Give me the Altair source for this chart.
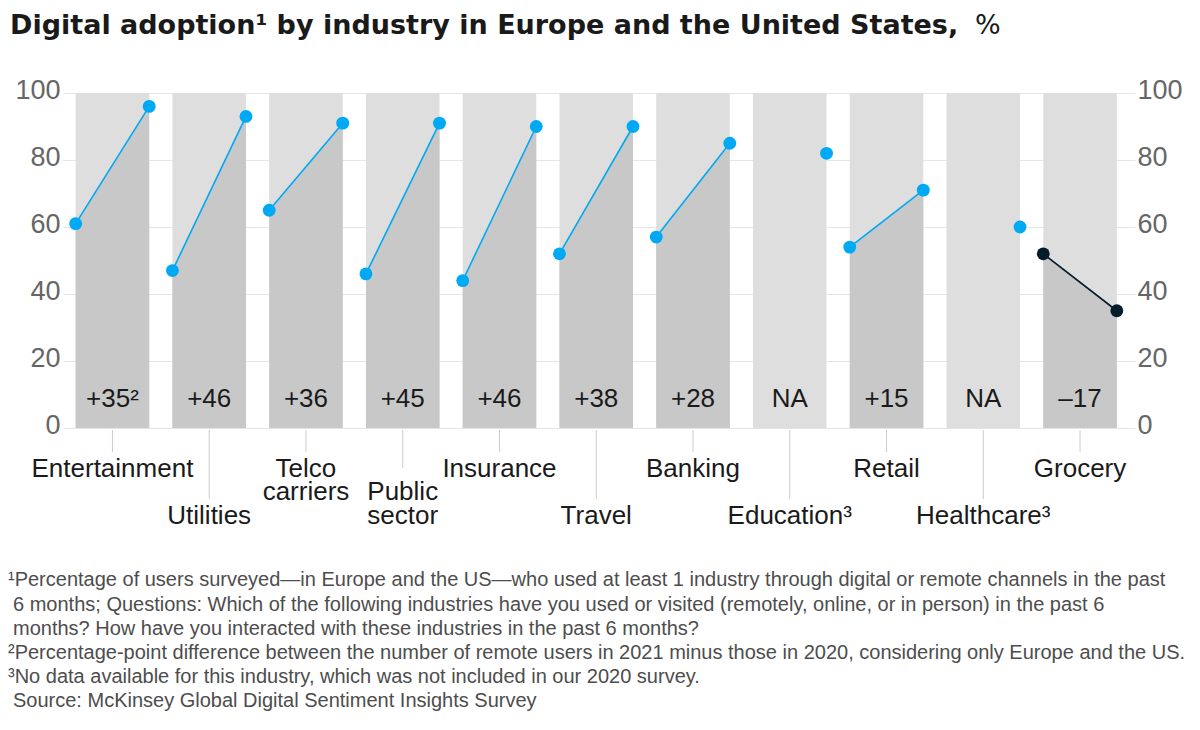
import altair as alt
import pandas as pd

industries = ["Entertainment", "Utilities", "Telco carriers", "Public sector", "Insurance",
              "Travel", "Banking", "Education³", "Retail", "Healthcare³", "Grocery"]
v2020 = [61, 47, 65, 46, 44, 52, 57, None, 54, None, 52]
v2021 = [96, 93, 91, 91, 90, 90, 85, 82, 71, 60, 35]
deltas = ["+35²", "+46", "+36", "+45", "+46", "+38", "+28", "NA", "+15", "NA", "–17"]
label_lines = [["Entertainment"], ["Utilities"], ["Telco", "carriers"], ["Public", "sector"],
               ["Insurance"], ["Travel"], ["Banking"], ["Education³"], ["Retail"],
               ["Healthcare³"], ["Grocery"]]
label_row = [0, 2, 0, 1, 0, 2, 0, 2, 0, 2, 0]
y_ticks = [0, 20, 40, 60, 80, 100]

title_main = "Digital adoption¹ by industry in Europe and the United States,"
title_unit = "%"
footnotes = [
    "¹Percentage of users surveyed—in Europe and the US—who used at least 1 industry through digital or remote channels in the past",
    "6 months; Questions: Which of the following industries have you used or visited (remotely, online, or in person) in the past 6",
    "months? How have you interacted with these industries in the past 6 months?",
    "²Percentage-point difference between the number of remote users in 2021 minus those in 2020, considering only Europe and the US.",
    "³No data available for this industry, which was not included in our 2020 survey.",
    "Source: McKinsey Global Digital Sentiment Insights Survey",
]
footnote_indent = [0, 1, 1, 0, 0, 1]

FONT = "Liberation Sans"
BW = 0.76
n = len(industries)

bands = pd.DataFrame({
    "industry": industries,
    "x0": [i for i in range(n)],
    "x1": [i + BW for i in range(n)],
    "xc": [i + BW / 2 for i in range(n)],
    "delta": deltas,
    "y0": [0] * n,
    "y1": [100] * n,
})

pts = []
for i in range(n):
    grp = "down" if (v2020[i] is not None and v2021[i] < v2020[i]) else "up"
    if v2020[i] is not None:
        pts.append({"industry": industries[i], "x": i, "v": v2020[i], "grp": grp, "pair": True})
    pts.append({"industry": industries[i], "x": i + BW, "v": v2021[i], "grp": grp,
                "pair": v2020[i] is not None})
pts = pd.DataFrame(pts)
pairs = pts[pts["pair"]]

row_y = [376, 399, 423]
tick_end = [359, 375, 406]
lab = []
ticks = []
for i in range(n):
    for k, t in enumerate(label_lines[i]):
        lab.append({"xc": i + BW / 2, "py": row_y[label_row[i] + k], "t": t})
    ticks.append({"xc": i + BW / 2, "p0": 337, "p1": tick_end[label_row[i]]})
lab = pd.DataFrame(lab)
ticks = pd.DataFrame(ticks)

xs = alt.Scale(domain=[-0.131, 10.948], nice=False, zero=False)
ys = alt.Scale(domain=[0, 100], nice=False)
colscale = alt.Scale(domain=["up", "down"], range=["#00a9f4", "#051c2c"])

axis_common = dict(values=y_ticks, domain=False, ticks=False, labelFontSize=27,
                   labelColor="#666666", labelFont=FONT, title=None, labelOffset=-3)

bg = alt.Chart(bands).mark_rect(color="#dedede").encode(
    x=alt.X("x0:Q", scale=xs, axis=None),
    x2="x1:Q",
    y=alt.Y("y0:Q", scale=ys, axis=alt.Axis(grid=True, gridColor="#e6e6e6", labelPadding=3,
                                             **axis_common)),
    y2="y1:Q",
)

right_axis = alt.Chart(bands).mark_rect(opacity=0).encode(
    x=alt.X("x0:Q", scale=xs, axis=None),
    x2="x1:Q",
    y=alt.Y("y0:Q", scale=ys, axis=alt.Axis(grid=False, orient="right", labelPadding=2,
                                             **axis_common)),
    y2="y1:Q",
)

area = alt.Chart(pairs).mark_area(color="#c8c8c8", opacity=1).encode(
    x=alt.X("x:Q", scale=xs, axis=None),
    y=alt.Y("v:Q", scale=ys, axis=None, stack=None),
    detail="industry:N",
)

line = alt.Chart(pairs).mark_line(strokeWidth=1.6).encode(
    x=alt.X("x:Q", scale=xs, axis=None),
    y=alt.Y("v:Q", scale=ys, axis=None),
    detail="industry:N",
    color=alt.Color("grp:N", scale=colscale, legend=None),
)

dots = alt.Chart(pts).mark_circle(size=165, opacity=1).encode(
    x=alt.X("x:Q", scale=xs, axis=None),
    y=alt.Y("v:Q", scale=ys, axis=None),
    color=alt.Color("grp:N", scale=colscale, legend=None),
)

dtext = alt.Chart(bands).mark_text(font=FONT, fontSize=26, color="#1a1a1a", baseline="middle").encode(
    x=alt.X("xc:Q", scale=xs, axis=None),
    y=alt.value(306),
    text="delta:N",
)

tickrules = alt.Chart(ticks).mark_rule(color="#cccccc", strokeWidth=1).encode(
    x=alt.X("xc:Q", scale=xs, axis=None),
    y=alt.Y("p0:Q", scale=None),
    y2="p1:Q",
)

labels = alt.Chart(lab).mark_text(font=FONT, fontSize=26, color="#1a1a1a", baseline="middle").encode(
    x=alt.X("xc:Q", scale=xs, axis=None),
    y=alt.Y("py:Q", scale=None),
    text="t:N",
)

ttl = alt.Chart(pd.DataFrame({"t": [title_main]})).mark_text(
    font="DejaVu Sans", fontSize=27, fontWeight="bold", color="#1a1a1a", align="left", baseline="alphabetic"
).encode(x=alt.value(-53), y=alt.value(-59), text="t:N")

ttl2 = alt.Chart(pd.DataFrame({"t": [title_unit]})).mark_text(
    font="DejaVu Sans", fontSize=27, color="#1a1a1a", align="left", baseline="alphabetic"
).encode(x=alt.value(912), y=alt.value(-59), text="t:N")

fn_y = [487, 512, 536, 560, 584, 608]
fn = pd.DataFrame({"t": footnotes, "py": fn_y,
                   "px": [-55 + 5 * k for k in footnote_indent]})
foot = alt.Chart(fn).mark_text(
    font=FONT, fontSize=20, color="#4d4d4d", align="left", baseline="middle"
).encode(x=alt.X("px:Q", scale=None), y=alt.Y("py:Q", scale=None), text="t:N")

chart = alt.layer(bg, right_axis, area, line, dots, dtext, tickrules, labels, ttl, ttl2, foot).resolve_scale(
    y="independent"
).properties(
    width=1072, height=335,
    autosize=alt.AutoSizeParams(type="none"),
    padding={"left": 55, "top": 85, "right": 57, "bottom": 294},
).configure_view(stroke=None)

chart.save("out.html", embed_options={"renderer": "svg", "actions": False})
